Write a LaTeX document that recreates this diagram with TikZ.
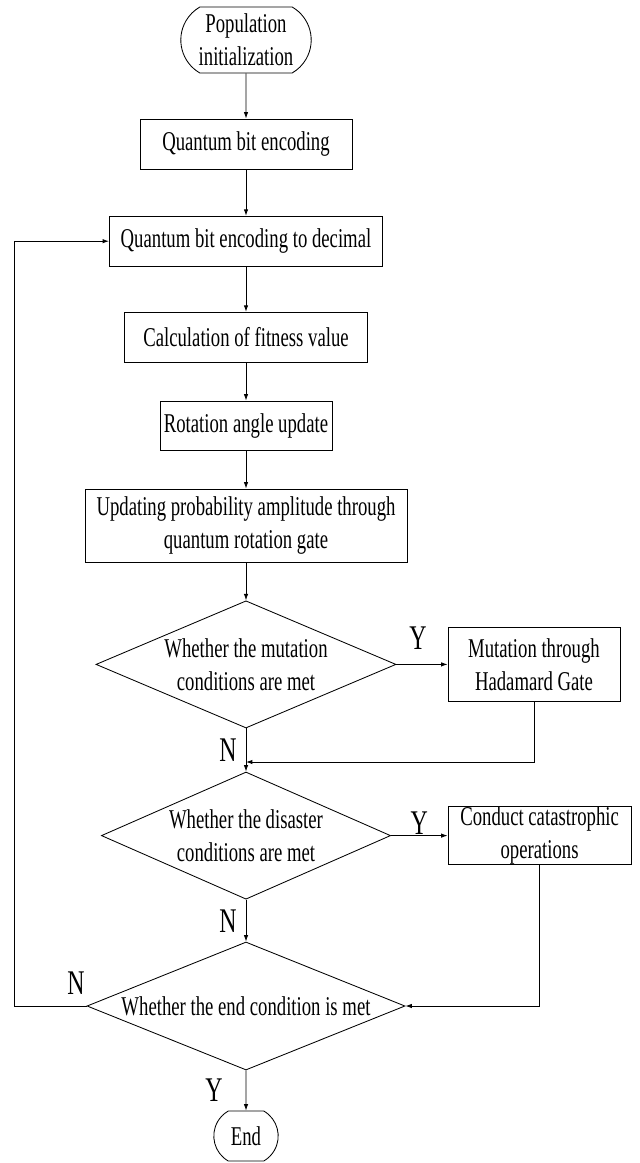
\documentclass[tikz,border=0pt]{standalone}
\usepackage{fontspec}
\setmainfont{Liberation Serif}[FakeStretch=0.69]
\usetikzlibrary{shapes.geometric,shapes.misc,arrows.meta}

\begin{document}
\begin{tikzpicture}[line width=0.6pt,
    >={Latex[length=1.6mm,width=1.1mm]},
    font=\fontsize{19.3pt}{23.4pt}\selectfont,
    procbox/.style={draw, rectangle, align=center, inner sep=1pt},
    termbox/.style={draw, rounded rectangle, rounded rectangle arc length=120, align=center, inner sep=1pt},
    decbox/.style={draw, diamond, aspect=2.4, inner sep=0pt, align=center},
    yn/.style={font=\fontsize{24.6pt}{28pt}\selectfont, inner sep=0pt}]
    \useasboundingbox (0,0) rectangle (16,-29.075);
    % Main column:
    % Every step sits at a fixed coordinate on the x = 6.15 line
    \node [termbox, minimum width=3.33cm, minimum height=1.65cm] (pop) at (6.15,-1.0) {Population\\initialization};
    \node [procbox, minimum width=5.3cm, minimum height=1.25cm] (qbe) at (6.15,-3.6) {Quantum bit encoding};
    \node [procbox, minimum width=6.83cm, minimum height=1.25cm] (dec) at (6.15,-6.03) {Quantum bit encoding to decimal};
    \node [procbox, minimum width=6.08cm, minimum height=1.25cm] (fit) at (6.15,-8.43) {Calculation of fitness value};
    \node [procbox, minimum width=4.3cm, minimum height=1.23cm] (rot) at (6.15,-10.64) {Rotation angle update};
    \node [procbox, minimum width=8.05cm, minimum height=1.83cm] (upd) at (6.15,-13.14) {Updating probability amplitude through\\quantum rotation gate};
    \node [decbox, minimum width=7.5cm, minimum height=3.18cm] (d1) at (6.15,-16.61) {Whether the mutation\\conditions are met};
    \node [decbox, minimum width=7.23cm, minimum height=3.18cm] (d2) at (6.15,-20.89) {Whether the disaster\\conditions are met};
    \node [decbox, minimum width=7.95cm, minimum height=3.2cm] (d3) at (6.15,-25.15) {Whether the end condition is met};
    \node [termbox, minimum width=1.68cm, minimum height=1.25cm] (end) at (6.15,-28.4) {End};
    % Side branches:
    \node [procbox, minimum width=4.3cm, minimum height=1.83cm] (mut) at (13.35,-16.61) {Mutation through\\Hadamard Gate};
    \node [procbox, inner sep=0pt, minimum width=4.58cm, minimum height=1.43cm] (con) at (13.49,-20.89) {Conduct catastrophic\\operations};
    % Turning points of the return lines
    \coordinate (mg) at (6.15,-19.05);
    \coordinate (lp) at (0.35,-25.15);
    % Y / N labels
    \node [yn] (y1) at (10.45,-15.95) {Y};
    \node [yn] (n1) at (5.7,-18.75) {N};
    \node [yn] (y2) at (10.48,-20.58) {Y};
    \node [yn] (n2) at (5.7,-23.03) {N};
    \node [yn] (n3) at (1.9,-24.58) {N};
    \node [yn] (y3) at (5.35,-27.25) {Y};
    % Connectors:
    \draw [->] (pop) -- (qbe);
    \draw [->] (qbe) -- (dec);
    \draw [->] (dec) -- (fit);
    \draw [->] (fit) -- (rot);
    \draw [->] (rot) -- (upd);
    \draw [->] (upd) -- (d1);
    \draw [->] (d1) -- (mut);
    \draw [->] (d1) -- (d2);
    \draw [->] (mut.south) |- (mg);
    \draw [->] (d2) -- (con);
    \draw [->] (d2) -- (d3);
    \draw [->] (con.south) |- (d3.east);
    \draw [->] (d3.west) -- (lp) |- (dec.west);
    \draw [->] (d3) -- (end);
\end{tikzpicture}
\end{document}
